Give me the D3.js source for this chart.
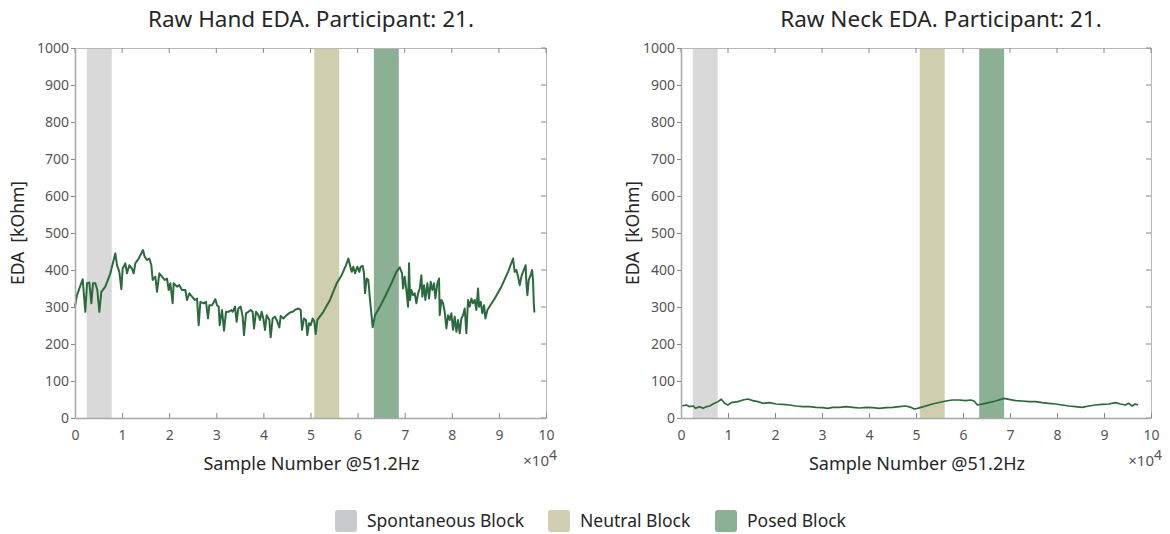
<!DOCTYPE html>
<html>
<head>
<meta charset="utf-8">
<script src="https://cdn.jsdelivr.net/npm/d3@7"></script>
<style>
  html, body { margin: 0; padding: 0; background: #fff; }
  svg { display: block; font-family: "Noto Sans", "Open Sans", sans-serif; }
  text { white-space: pre; }
</style>
</head>
<body>
<svg id="chart" width="1170" height="534"></svg>
<script>
// ---------- data ----------
const xTickValues = [0, 10000, 20000, 30000, 40000, 50000, 60000, 70000, 80000, 90000, 100000];
const xTickLabels = ["0", "1", "2", "3", "4", "5", "6", "7", "8", "9", "10"];
const yTickValues = [0, 100, 200, 300, 400, 500, 600, 700, 800, 900, 1000];

const blockNames = ["Spontaneous Block", "Neutral Block", "Posed Block"];
const blockStart = [2500, 50800, 63450];
const blockEnd = [7800, 56100, 68750];

const handX = [0,425,1628,2194,2548,3043,3468,3822,4317,4742,5167,5591,6441,7502,8564,8918,9414,9838,10121,10688,
  11042,11537,12103,12457,12811,13519,14438,14793,15288,15784,16209,16491,17058,17411,17907,18473,19040,19535,19889,20242,
  20738,20951,21658,22154,22720,23427,23782,24277,24843,25410,25905,26258,26612,27320,27816,28241,28524,29090,29798,30152,
  30505,30717,31214,31638,32063,32630,33195,33475,33970,34324,34677,35174,35598,35881,36306,36801,37296,37721,38005,38429,
  38924,39279,39632,39986,40340,40694,41260,41543,41968,42464,42817,43384,43666,44233,44940,45648,46215,46710,47418,47913,
  48196,48621,49045,49329,49682,50037,50461,50816,51098,51453,52726,54142,55558,56619,57539,58034,58389,58743,59096,59450,
  59945,60370,60654,61079,61361,61574,61928,62281,62635,62990,63202,63695,64760,66175,67313,68233,68941,69436,69649,70003,
  70356,70711,70923,71135,71418,71772,72126,72480,72834,73187,73541,73754,74108,74391,74816,75170,75523,75877,76232,76514,
  76939,77292,77434,77788,78142,78496,78850,79203,79558,79912,80265,80619,80974,81327,81681,82035,82388,82743,83097,83450,
  83804,84159,84512,84866,85219,85574,85786,86140,86493,86848,87131,87555,89113,90528,91944,93006,93359,93713,94067,94421,
  94775,95129,95676,95837,96049,96334,96756,97039,97252,97393,97535];
const handEDA = [301,332,375,287,364,366,310,364,364,346,287,341,355,391,445,413,395,348,404,418,
  391,413,404,391,418,431,454,436,427,431,413,373,382,341,391,382,373,377,346,364,
  310,364,355,359,346,346,319,337,328,319,323,251,314,310,314,269,305,305,321,305,
  301,251,292,236,287,287,292,287,301,260,296,301,274,224,283,287,292,287,242,287,
  278,265,287,269,238,278,265,218,269,274,265,245,276,269,278,285,287,292,296,292,
  238,269,265,224,256,251,269,260,227,265,287,319,364,386,413,431,413,395,409,391,
  409,395,409,411,391,337,377,373,319,274,245,278,301,337,368,395,407,391,350,382,
  346,301,418,319,346,332,337,310,337,350,386,328,359,319,364,323,368,346,364,323,
  364,377,278,319,310,287,242,278,265,283,238,274,233,265,229,269,278,296,229,319,
  301,323,310,319,292,350,301,314,283,305,269,292,323,355,395,431,395,400,382,359,
  382,395,413,364,332,373,386,400,373,314,285];

const neckX = [78,1139,1847,2555,3121,3970,4678,5386,6093,6801,7863,8570,9278,9986,10693,12109,13170,14232,15293,16355,
  17417,18832,20247,21663,23078,24494,25909,27324,28740,30155,31217,32278,33694,35109,36524,37940,39355,40771,42186,43601,
  45017,46432,47848,48909,49617,50325,53509,56340,57755,59171,60586,61648,62355,63063,64832,66956,68725,69786,71202,72617,
  74033,75448,76863,78279,79694,81110,82525,83940,85356,86771,88187,89602,91017,92433,93494,94556,95263,95971,96679,97245];
const neckEDA = [32.5,35.2,30.7,32.5,26.1,30.7,26.1,30.7,32.5,37.9,44.2,50.5,39.7,35.2,41.5,44.2,48.7,51.4,46.9,44.2,
  39.7,41.5,37.9,37.0,35.2,32.5,30.7,30.7,28.9,28.0,26.1,28.9,28.9,30.7,28.9,27.1,28.9,28.0,26.1,28.0,
  28.9,30.7,32.5,28.9,24.4,26.1,37.9,46.0,48.7,48.7,46.9,48.7,46.0,35.2,39.7,46.0,53.2,50.5,46.9,46.0,
  44.2,44.2,41.5,39.7,37.9,35.2,32.5,30.7,28.9,32.5,35.2,37.0,37.9,41.5,37.9,35.2,39.7,32.5,37.9,35.2];

// ---------- styles ----------
const bandColors = ["#d9d9d9", "#cfcfb0", "#8bb094"];
const legendColors = ["#c9cacc", "#d0cfb1", "#8bb094"];
const lineColor = "#2b6a3c";

const svg = d3.select("#chart");
const plotTop = 48, plotBottom = 418;

const panels = [
  { title: "Raw Hand EDA. Participant: 21.", xs: handX, ys: handEDA, left: 75, right: 546, titleX: 311, ylabX: 18, lw: 2 },
  { title: "Raw Neck EDA. Participant: 21.", xs: neckX, ys: neckEDA, left: 681, right: 1151, titleX: 941, ylabX: 633, lw: 1.7 }
];

panels.forEach(p => {
  const x = d3.scaleLinear().domain([0, 100000]).range([p.left, p.right]);
  const y = d3.scaleLinear().domain([0, 1000]).range([plotBottom, plotTop]);
  const g = svg.append("g");

  // bands
  g.selectAll("rect.band").data(blockNames).join("rect")
    .attr("class", "band")
    .attr("x", (d, i) => x(blockStart[i]))
    .attr("width", (d, i) => x(blockEnd[i]) - x(blockStart[i]))
    .attr("y", y(1000)).attr("height", y(0) - y(1000))
    .attr("fill", (d, i) => bandColors[i]);

  // box: top and right
  g.append("line").attr("x1", p.left).attr("x2", p.right).attr("y1", plotTop + 0.5).attr("y2", plotTop + 0.5)
    .attr("stroke", "#b8b8b8").attr("stroke-width", 1);
  g.append("line").attr("x1", p.right + 0.5).attr("x2", p.right + 0.5).attr("y1", plotTop).attr("y2", plotBottom)
    .attr("stroke", "#b8b8b8").attr("stroke-width", 1);

  // top & right ticks (inward)
  g.selectAll("line.tt").data(xTickValues).join("line").attr("class", "tt")
    .attr("x1", d => x(d)).attr("x2", d => x(d)).attr("y1", plotTop).attr("y2", plotTop + 5)
    .attr("stroke", "#888").attr("stroke-width", 1);
  g.selectAll("line.rt").data(yTickValues).join("line").attr("class", "rt")
    .attr("x1", p.right - 5).attr("x2", p.right).attr("y1", d => y(d)).attr("y2", d => y(d))
    .attr("stroke", "#888").attr("stroke-width", 1);

  // line
  const pts = p.xs.map((v, i) => [v, p.ys[i]]);
  g.append("path").datum(pts)
    .attr("d", d3.line().x(d => x(d[0])).y(d => y(d[1])))
    .attr("fill", "none").attr("stroke", lineColor).attr("stroke-width", p.lw)
    .attr("stroke-linejoin", "round");

  // bottom axis
  const xAxis = d3.axisBottom(x).tickValues(xTickValues)
    .tickFormat((d, i) => xTickLabels[i]).tickSizeInner(-5).tickSizeOuter(0).tickPadding(12);
  const gx = g.append("g").attr("transform", `translate(0,${plotBottom})`).call(xAxis);
  gx.select(".domain").attr("stroke", "#a8a8a8").attr("stroke-width", 1.5);
  gx.selectAll(".tick line").attr("stroke", "#888");
  gx.selectAll(".tick text").attr("fill", "#555").style("font-size", "14px")
    .style("font-family", "'Noto Sans', 'Open Sans', sans-serif");

  // left axis
  const yAxis = d3.axisLeft(y).tickValues(yTickValues).tickFormat(d3.format("d"))
    .tickSizeInner(4).tickSizeOuter(0).tickPadding(2);
  const gy = g.append("g").attr("transform", `translate(${p.left},0)`).call(yAxis);
  gy.select(".domain").attr("stroke", "#a8a8a8").attr("stroke-width", 1.5);
  gy.selectAll(".tick line").attr("stroke", "#888");
  gy.selectAll(".tick text").attr("fill", "#555").style("font-size", "14px")
    .style("font-family", "'Noto Sans', 'Open Sans', sans-serif");

  // title
  svg.append("text").attr("x", p.titleX).attr("y", 27).attr("text-anchor", "middle")
    .attr("fill", "#262626").style("font-size", "22.5px").text(p.title);

  // x label
  svg.append("text").attr("x", (p.left + p.right) / 2 + 1).attr("y", 470).attr("text-anchor", "middle")
    .attr("fill", "#262626").style("font-size", "18px").text("Sample Number @51.2Hz");

  // exponent
  const ex = svg.append("text").attr("x", p.right + 11).attr("y", 466).attr("text-anchor", "end")
    .attr("fill", "#555").style("font-size", "15px");
  ex.append("tspan").text("\u00d710");
  ex.append("tspan").attr("dy", -6).style("font-size", "14px").text("4");

  // y label
  svg.append("text").attr("transform", `translate(${p.ylabX},${(plotTop + plotBottom) / 2}) rotate(-90)`)
    .attr("text-anchor", "middle").attr("dy", "0.35em")
    .attr("fill", "#262626").style("font-size", "17.5px").text("EDA  [kOhm]");
});

// legend
const legendX = [335, 548, 715];
const lg = svg.append("g");
blockNames.forEach((name, i) => {
  lg.append("rect").attr("x", legendX[i]).attr("y", 510).attr("width", 22).attr("height", 22)
    .attr("rx", 3).attr("fill", legendColors[i]);
  lg.append("text").attr("x", legendX[i] + 32).attr("y", 521).attr("dy", "0.35em")
    .attr("fill", "#262626").style("font-size", "17.5px").text(name);
});
</script>
</body>
</html>
